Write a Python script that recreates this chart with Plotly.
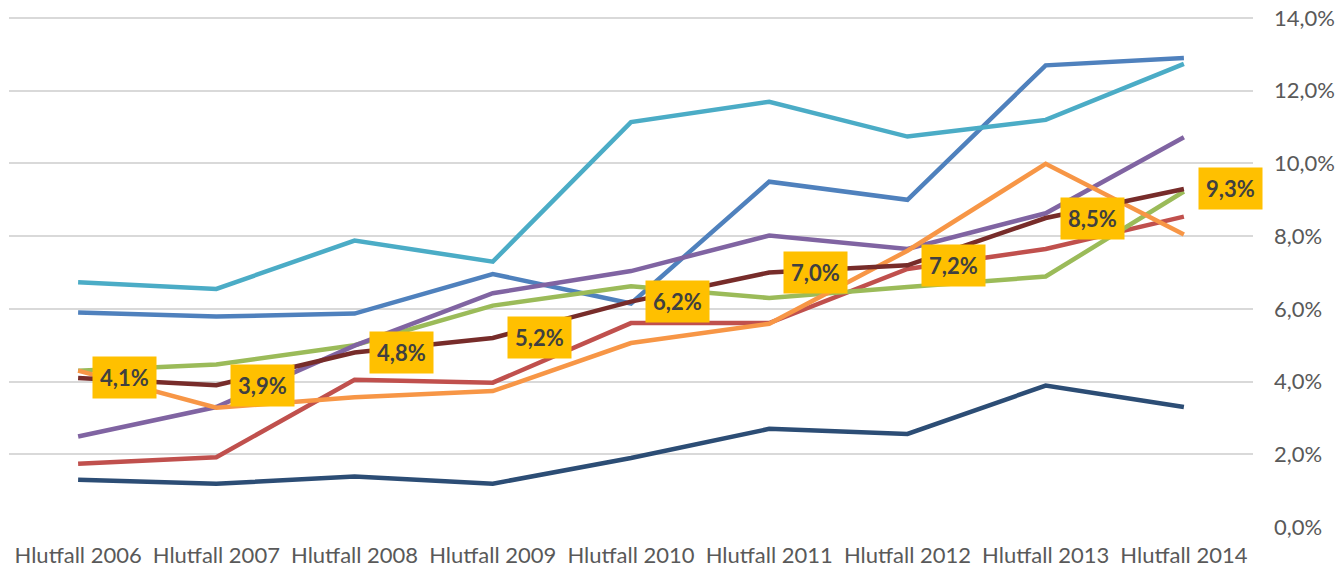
import plotly.graph_objects as go

categories = ["Hlutfall 2006", "Hlutfall 2007", "Hlutfall 2008", "Hlutfall 2009", "Hlutfall 2010",
              "Hlutfall 2011", "Hlutfall 2012", "Hlutfall 2013", "Hlutfall 2014"]

blue = [5.90, 5.79, 5.87, 6.96, 6.15, 9.50, 9.00, 12.70, 12.90]
red = [1.74, 1.92, 4.05, 3.97, 5.61, 5.61, 7.10, 7.65, 8.54]
green = [4.30, 4.47, 5.00, 6.09, 6.62, 6.30, 6.60, 6.89, 9.23]
purple = [2.49, 3.30, 4.99, 6.43, 7.04, 8.02, 7.65, 8.63, 10.72]
cyan = [6.73, 6.55, 7.88, 7.30, 11.14, 11.70, 10.74, 11.20, 12.74]
orange = [4.30, 3.28, 3.57, 3.74, 5.06, 5.59, 7.60, 9.99, 8.05]
navy = [1.30, 1.19, 1.39, 1.19, 1.90, 2.70, 2.56, 3.89, 3.30]
darkred = [4.1, 3.9, 4.8, 5.2, 6.2, 7.0, 7.2, 8.5, 9.3]

tick_vals = [0, 2, 4, 6, 8, 10, 12, 14]
tick_text = ["0,0%", "2,0%", "4,0%", "6,0%", "8,0%", "10,0%", "12,0%", "14,0%"]

series = [
    (blue, "#4F81BD"),
    (red, "#C0504D"),
    (green, "#9BBB59"),
    (purple, "#8064A2"),
    (cyan, "#4BACC6"),
    (orange, "#F79646"),
    (navy, "#2C4D75"),
    (darkred, "#772C2A"),
]

fig = go.Figure()
for vals, col in series:
    fig.add_trace(go.Scatter(x=categories, y=vals, mode="lines",
                             line=dict(color=col, width=4.5), showlegend=False,
                             hoverinfo="skip"))

annotations = []
for c, v in zip(categories, darkred):
    annotations.append(dict(
        x=c, y=v, xref="x", yref="y",
        text=("%.1f%%" % v).replace(".", ","),
        showarrow=False, xanchor="left", yanchor="middle", xshift=14,
        bgcolor="#FFC000", borderpad=7,
        font=dict(family="Lato", size=22, color="#404040", weight="bold"),
    ))

fig.update_layout(
    width=1341, height=569,
    margin=dict(l=9, r=88, t=17, b=42),
    paper_bgcolor="white", plot_bgcolor="white",
    font=dict(family="Lato", color="#595959", size=22),
    annotations=annotations,
    xaxis=dict(type="category", range=[-0.5, 8.5], showgrid=False, showline=False,
               zeroline=False, ticks="", ticklabelstandoff=13, automargin=False,
               tickfont=dict(size=22, color="#595959")),
    yaxis=dict(side="right", range=[0, 14.03], tickvals=tick_vals, ticktext=tick_text,
               showgrid=True, gridcolor="#D9D9D9", gridwidth=1.5, zeroline=False,
               showline=False, ticks="", ticklabelstandoff=20, automargin=False,
               tickfont=dict(size=22, color="#595959")),
)

fig.write_html("out.html", config={"displayModeBar": False},
               post_script="document.body.style.margin='0';")
